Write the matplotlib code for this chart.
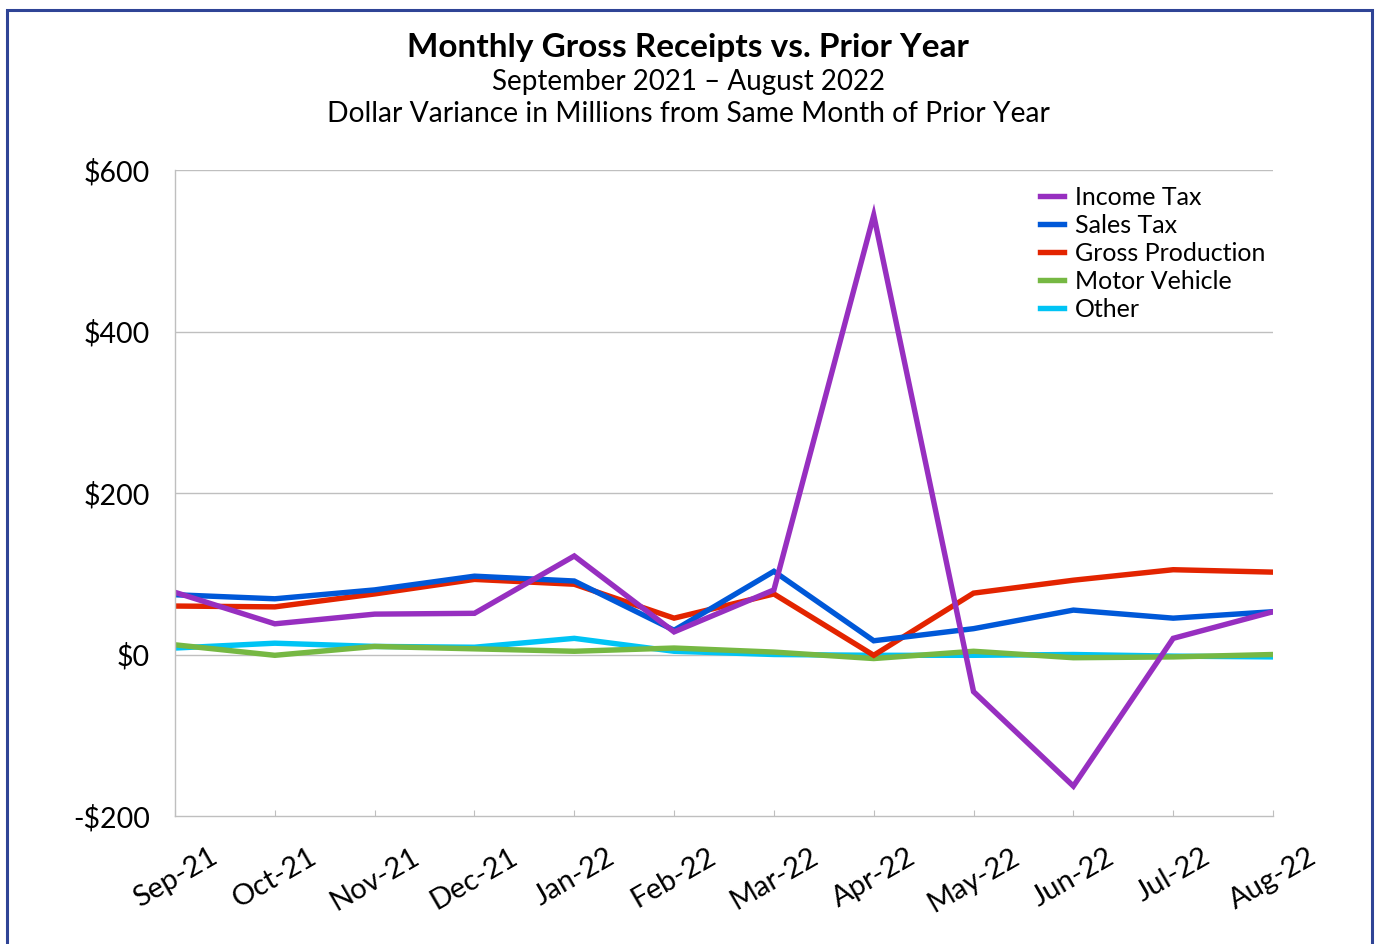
import matplotlib
matplotlib.use("Agg")
import matplotlib.pyplot as plt
from matplotlib.patches import Rectangle

plt.rcParams['font.family'] = ['Lato', 'DejaVu Sans']

months = ["Sep-21", "Oct-21", "Nov-21", "Dec-21", "Jan-22", "Feb-22",
          "Mar-22", "Apr-22", "May-22", "Jun-22", "Jul-22", "Aug-22"]
income_tax = [77, 38, 50, 51, 122, 28, 80, 544, -46, -163, 20, 53]
sales_tax = [74, 69, 80, 97, 91, 30, 103, 17, 32, 55, 45, 53]
gross_production = [60, 59, 75, 93, 87, 45, 75, -1, 76, 92, 105, 102]
motor_vehicle = [12, -1, 10, 7, 4, 8, 3, -5, 4, -4, -3, 0]
other = [8, 14, 10, 9, 20, 4, 0, -1, -1, 0, -2, -3]
y_ticks = [-200, 0, 200, 400, 600]
y_labels = ["-$200", "$0", "$200", "$400", "$600"]

fig = plt.figure(figsize=(13.76, 9.44), dpi=100)
ax = fig.add_axes([175/1376, 1 - 816/944, (1273-175)/1376, (816-170)/944])

x = list(range(len(months)))
series = [
    ("Other", other, "#00C4F5"),
    ("Motor Vehicle", motor_vehicle, "#76B843"),
    ("Gross Production", gross_production, "#E32400"),
    ("Sales Tax", sales_tax, "#0058D8"),
    ("Income Tax", income_tax, "#972FC0"),
]
handles = {}
for name, vals, col in series:
    h, = ax.plot(x, vals, color=col, lw=3.9, solid_joinstyle='miter', label=name)
    handles[name] = h

ax.set_xlim(0, len(months) - 1)
ax.set_ylim(-200, 600)
ax.set_yticks(y_ticks)
ax.set_yticklabels(y_labels, fontsize=20.5)
for yv in [0, 200, 400, 600]:
    ax.axhline(yv, color="#BFBFBF", lw=1.0, zorder=0)
ax.set_xticks(x)
ax.set_xticklabels(months, fontsize=21, rotation=30, ha='center', va='top')
ax.tick_params(axis='y', length=0, pad=18)
ax.tick_params(axis='x', length=4, direction='in', color="#BFBFBF", pad=20)
for s in ['top', 'right']:
    ax.spines[s].set_visible(False)
for s in ['left', 'bottom']:
    ax.spines[s].set_color("#BFBFBF")
    ax.spines[s].set_linewidth(1.0)

order = ["Income Tax", "Sales Tax", "Gross Production", "Motor Vehicle", "Other"]
leg = ax.legend([handles[n] for n in order], order, loc='upper left',
                bbox_to_anchor=(0.772, 1.002), frameon=False, fontsize=18,
                handlelength=0.95, handletextpad=0.45, labelspacing=0.2,
                borderaxespad=0.3)

fig.text(0.5, 1 - 48/944, "Monthly Gross Receipts vs. Prior Year", ha='center', va='center',
         fontsize=24, fontweight='bold')
fig.text(0.5, 1 - 82/944, "September 2021 \u2013 August 2022", ha='center', va='center', fontsize=20)
fig.text(0.5, 1 - 114/944, "Dollar Variance in Millions from Same Month of Prior Year", ha='center',
         va='center', fontsize=20.3)

fig.patches.append(Rectangle((7/1376, -0.05), (1372-7)/1376, 1.05 - 10/944,
                             transform=fig.transFigure, fill=False, edgecolor="#2F4496", lw=2.2))

fig.savefig("out.png", dpi=100)
